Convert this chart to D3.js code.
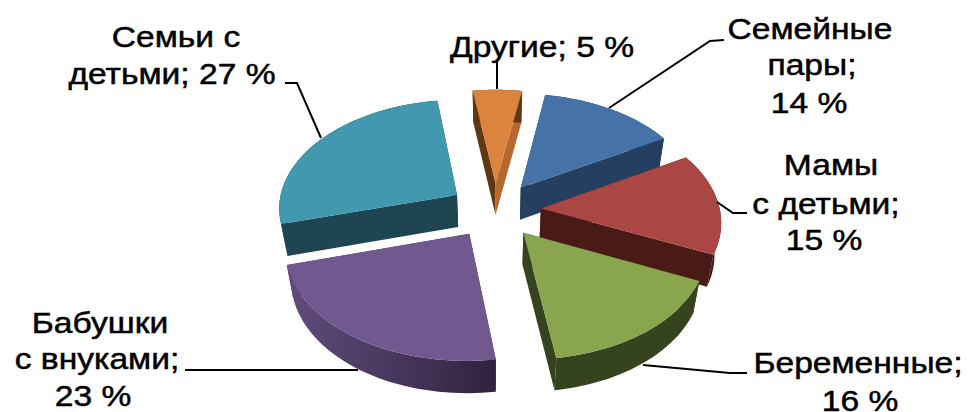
<!DOCTYPE html>
<html><head><meta charset="utf-8">
<script src="https://cdn.jsdelivr.net/npm/d3@7"></script>
<style>html,body{margin:0;background:#fff;overflow:hidden}svg{display:block}
text{font-family:"Liberation Sans",Arial,sans-serif;font-size:30px;fill:#000;stroke:#000;stroke-width:.5px}</style>
</head><body><svg id="c" width="968" height="412"></svg>
<script>
const categories=["Другие","Семейные пары","Мамы с детьми","Беременные","Бабушки с внуками","Семьи с детьми"];
const values=[5,14,15,16,23,27];
const topColors=["#db843d","#4572a7","#aa4643","#89a54e","#71588f","#4198af"];
const wallColors=["#5e3812","#243f5f","#4a1a17","#36431f","#4a3860","#1f4650"];
const labelLines=[["Другие; 5 %"],["Семейные","пары;","14 %"],["Мамы","с детьми;","15 %"],["Беременные;","16 %"],["Бабушки","с внуками;","23 %"],["Семьи с","детьми; 27 %"]];

const svg=d3.select("#c");
const cx=495,cy=210,R=179,explode=46,depth=33,tilt=0.605,D=1700;
const rad=Math.PI/180;
const arcs=d3.pie().sort(null).startAngle(-8.3*rad).endAngle(351.7*rad)(values);

function project(a,r,e,m,z){
  const x=e*Math.sin(m)+r*Math.sin(a), y=-(e*Math.cos(m)+r*Math.cos(a));
  const s=(1/(1-y/D))*(1-z*0.0009);
  return [cx+x*s, cy+y*tilt*s+z*s];
}
const line=d3.line();
const defs=svg.append("defs");
const g=defs.append("linearGradient").attr("id","purpleWall").attr("gradientUnits","userSpaceOnUse")
  .attr("x1",290).attr("x2",495).attr("y1",0).attr("y2",0);
g.append("stop").attr("offset",0).attr("stop-color","#604b7b");
g.append("stop").attr("offset",1).attr("stop-color","#30233f");

const order=[0,5,1,2,4,3];
order.forEach(i=>{
  const d=arcs[i], m=(d.startAngle+d.endAngle)/2;
  const as=d3.range(0,41).map(t=>d.startAngle+(d.endAngle-d.startAngle)*t/40);
  const P=(a,r,z)=>project(a,r,explode,m,z);
  const lay=svg.append("g");
  const wall=(a,col)=>lay.append("path").attr("fill",col)
    .attr("d",line([P(a,R,0),P(a,0,0),P(a,0,depth),P(a,R,depth)])+"Z");
  wall(d.startAngle,wallColors[i]);
  wall(d.endAngle,i===0?"#b5692e":wallColors[i]);
  const outer=as.map(a=>P(a,R,0)).concat(as.slice().reverse().map(a=>P(a,R,depth)));
  lay.append("path").attr("fill",i===4?"url(#purpleWall)":wallColors[i]).attr("d",line(outer)+"Z");
  const top=[P(0,0,0)].concat(as.map(a=>P(a,R,0)));
  lay.append("path").attr("fill",topColors[i]).attr("d",line(top)+"Z");
});

const leaders=[
 [[497,60],[497,89]],
 [[724,40],[710,41],[609,108]],
 [[747,213],[733,213],[717,202]],
 [[747,373],[730,373],[643,365]],
 [[185,370],[358,370]],
 [[285,83],[297,83],[321,138]]
];
leaders.forEach(l=>svg.append("path").attr("d",line(l)).attr("fill","none").attr("stroke","#000").attr("stroke-width",2));

const labelX=[[542],[810,812,809],[831,826,824],[858,860],[100,97,93],[176,172]];
const labelY=[[57],[39,75,113],[175,214,250],[373,411],[333,369,406],[47,84]];
labelLines.forEach((ls,i)=>ls.forEach((t,j)=>{
  svg.append("text").attr("transform",`translate(${labelX[i][j]},${labelY[i][j]}) scale(1.12,1)`).attr("text-anchor","middle").text(t);
}));
</script></body></html>
